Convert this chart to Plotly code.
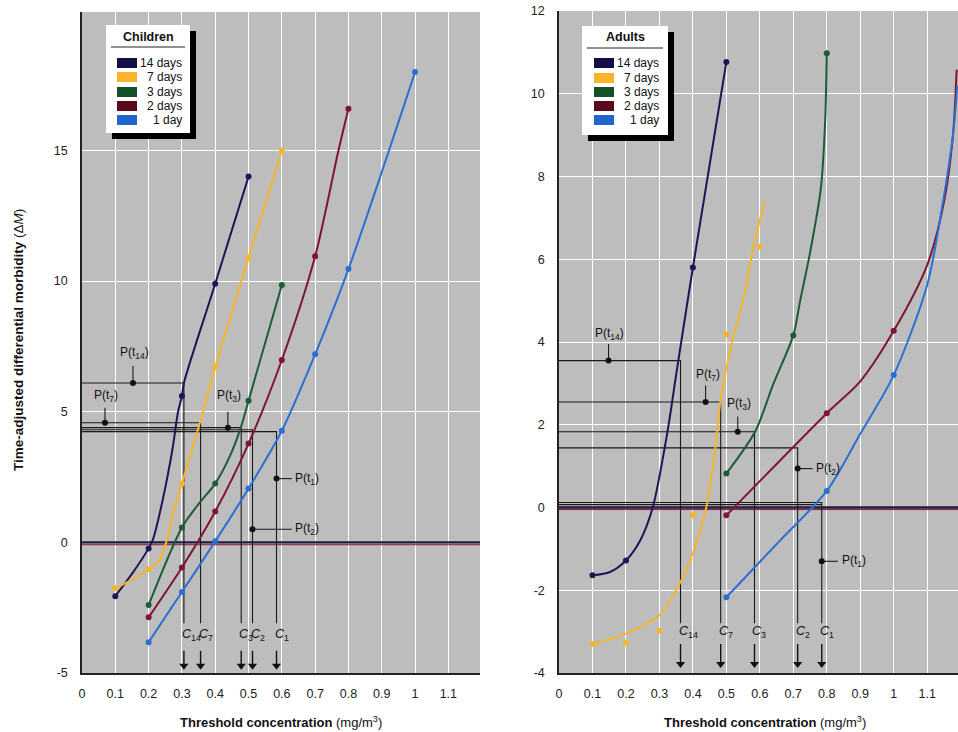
import plotly.graph_objects as go

W, H = 958, 732

# ---------------- DATA ----------------
series_names = ["14 days", "7 days", "3 days", "2 days", "1 day"]
series_colors = ["#1d1656", "#f5b62d", "#1e5c35", "#7e1631", "#2c6fd3"]
legend_colors = ["#150f48", "#fbb42a", "#14502a", "#5a0a1c", "#1f66cc"]

x_ticks = [0, 0.1, 0.2, 0.3, 0.4, 0.5, 0.6, 0.7, 0.8, 0.9, 1.0, 1.1]
x_ticktext = ["0", "0.1", "0.2", "0.3", "0.4", "0.5", "0.6", "0.7", "0.8", "0.9", "1", "1.1"]
y_ticks_children = [-5, 0, 5, 10, 15]
y_ticktext_children = ["-5", "0", "5", "10", "15"]
y_ticks_adults = [-4, -2, 0, 2, 4, 6, 8, 10, 12]
y_ticktext_adults = ["-4", "-2", "0", "2", "4", "6", "8", "10", "12"]

# Children: markers
ch14_x = [0.1, 0.2, 0.3, 0.4, 0.5]
ch14_y = [-2.06, -0.23, 5.6, 9.9, 14.0]
ch7_x = [0.1, 0.2, 0.3, 0.4, 0.5, 0.6]
ch7_y = [-1.76, -1.03, 2.25, 6.7, 10.9, 15.0]
ch3_x = [0.2, 0.3, 0.4, 0.5, 0.6]
ch3_y = [-2.4, 0.57, 2.25, 5.42, 9.85]
ch2_x = [0.2, 0.3, 0.4, 0.5, 0.6, 0.7, 0.8]
ch2_y = [-2.87, -0.96, 1.18, 3.78, 6.98, 10.95, 16.6]
ch1_x = [0.2, 0.3, 0.4, 0.5, 0.6, 0.7, 0.8, 1.0]
ch1_y = [-3.82, -1.9, 0.04, 2.06, 4.27, 7.2, 10.46, 18.0]

# Children: curves
ch14_cx = [0.1, 0.153, 0.2, 0.213, 0.234, 0.255, 0.273, 0.288, 0.3, 0.306, 0.4, 0.5]
ch14_cy = [-2.06, -1.15, -0.23, 0.11, 1.15, 2.41, 3.67, 4.97, 5.6, 6.1, 9.9, 14.0]
ch7_cx = [0.1, 0.153, 0.2, 0.234, 0.255, 0.274, 0.3, 0.354, 0.4, 0.5, 0.6]
ch7_cy = [-1.76, -1.41, -1.03, -0.65, 0.11, 1.15, 2.25, 4.58, 6.7, 10.9, 15.0]
ch3_cx = [0.2, 0.3, 0.354, 0.4, 0.444, 0.477, 0.5, 0.6]
ch3_cy = [-2.4, 0.57, 1.53, 2.25, 3.3, 4.4, 5.42, 9.85]
ch2_cx = [0.2, 0.3, 0.4, 0.5, 0.6, 0.7, 0.77, 0.8]
ch2_cy = [-2.87, -0.96, 1.18, 3.78, 6.98, 10.95, 15.0, 16.6]
ch1_cx = [0.2, 0.3, 0.4, 0.5, 0.6, 0.7, 0.8, 1.0]
ch1_cy = [-3.82, -1.9, 0.04, 2.06, 4.27, 7.2, 10.46, 18.0]

# Adults: markers
ad14_x = [0.1, 0.2, 0.4, 0.5]
ad14_y = [-1.64, -1.28, 5.8, 10.77]
ad7_x = [0.1, 0.2, 0.3, 0.4, 0.5, 0.6]
ad7_y = [-3.3, -3.27, -2.98, -0.19, 4.18, 6.3]
ad3_x = [0.5, 0.7, 0.8]
ad3_y = [0.82, 4.16, 10.98]
ad2_x = [0.5, 0.8, 1.0]
ad2_y = [-0.19, 2.28, 4.27]
ad1_x = [0.5, 0.8, 1.0]
ad1_y = [-2.17, 0.4, 3.2]

# Adults: curves
ad14_cx = [0.1, 0.152, 0.2, 0.243, 0.28, 0.323, 0.353, 0.4, 0.5]
ad14_cy = [-1.64, -1.56, -1.28, -0.79, 0.0, 1.78, 3.37, 5.8, 10.77]
ad7_cx = [0.1, 0.2, 0.3, 0.35, 0.4, 0.44, 0.467, 0.482, 0.52, 0.55, 0.578, 0.614]
ad7_cy = [-3.3, -3.05, -2.6, -2.0, -1.1, 0.0, 1.44, 2.55, 4.1, 5.0, 6.18, 7.4]
ad3_cx = [0.5, 0.587, 0.64, 0.7, 0.72, 0.751, 0.782, 0.795, 0.8]
ad3_cy = [0.82, 1.85, 2.98, 4.16, 4.98, 6.2, 7.7, 9.3, 10.98]
ad2_cx = [0.5, 0.8, 0.9, 1.0, 1.1, 1.15, 1.177, 1.188]
ad2_cy = [-0.19, 2.28, 3.05, 4.27, 5.86, 7.38, 9.0, 10.58]
ad1_cx = [0.5, 0.66, 0.8, 0.9, 1.0, 1.1, 1.147, 1.177, 1.19]
ad1_cy = [-2.17, -0.8, 0.4, 1.78, 3.2, 5.38, 7.38, 9.0, 10.2]

# Threshold annotations  (order: 14, 7, 3, 2, 1)
c_labels = ["14", "7", "3", "2", "1"]
ch_C = [0.306, 0.356, 0.478, 0.512, 0.584]
ch_P = [6.1, 4.58, 4.39, 4.31, 4.24]
ad_C = [0.363, 0.483, 0.584, 0.713, 0.785]
ad_P = [3.55, 2.55, 1.83, 1.44, 0.12]

# ---------------- FIGURE ----------------
fig = go.Figure()

GRAY = "#bdbdbd"
SANS = "Liberation Sans, Arial, sans-serif"
TICKFONT = dict(family=SANS, size=12.5, color="#222")

children = [(ch14_cx, ch14_cy, ch14_x, ch14_y), (ch7_cx, ch7_cy, ch7_x, ch7_y),
            (ch3_cx, ch3_cy, ch3_x, ch3_y), (ch2_cx, ch2_cy, ch2_x, ch2_y),
            (ch1_cx, ch1_cy, ch1_x, ch1_y)]
adults = [(ad14_cx, ad14_cy, ad14_x, ad14_y), (ad7_cx, ad7_cy, ad7_x, ad7_y),
          (ad3_cx, ad3_cy, ad3_x, ad3_y), (ad2_cx, ad2_cy, ad2_x, ad2_y),
          (ad1_cx, ad1_cy, ad1_x, ad1_y)]

def add_zero(xa, ya, off):
    fig.add_trace(go.Scatter(x=[-0.05, 1.3], y=[0, 0], mode="lines", xaxis=xa, yaxis=ya,
                             line=dict(color="#241a40", width=2.4), showlegend=False, hoverinfo="skip"))
    fig.add_trace(go.Scatter(x=[-0.05, 1.3], y=[-off, -off], mode="lines", xaxis=xa, yaxis=ya,
                             line=dict(color="#8a1a30", width=1), showlegend=False, hoverinfo="skip"))

add_zero("x", "y", 0.09)
add_zero("x2", "y2", 0.05)

def add_annot(xa, ya, C, P, vbot, lab_y, arr_top, arr_bot, p_specs):
    for i, (c, p) in enumerate(zip(C, P)):
        fig.add_trace(go.Scatter(x=[0, c, c], y=[p, p, vbot], mode="lines", xaxis=xa, yaxis=ya,
                                 line=dict(color="#1a1a1a", width=1.1), showlegend=False, hoverinfo="skip"))
        fig.add_annotation(x=c, y=lab_y, xref=xa, yref=ya, showarrow=False,
                           xanchor="left", yanchor="middle", xshift=-4,
                           text="<i>C</i><sub>%s</sub>" % c_labels[i],
                           font=dict(family=SANS, size=12.5, color="#111"))
        # downward arrow: shaft + head
        fig.add_trace(go.Scatter(x=[c, c], y=[arr_top, arr_bot], mode="lines", xaxis=xa, yaxis=ya,
                                 line=dict(color="#111", width=1.4), showlegend=False, hoverinfo="skip"))
        fig.add_trace(go.Scatter(x=[c], y=[arr_bot], mode="markers", xaxis=xa, yaxis=ya,
                                 marker=dict(symbol="triangle-down", color="#111", size=8),
                                 showlegend=False, hoverinfo="skip"))
    for (dx, dy, tx, ty, lx, ly, anchor, lab) in p_specs:
        fig.add_trace(go.Scatter(x=[dx, tx], y=[dy, ty], mode="lines", xaxis=xa, yaxis=ya,
                                 line=dict(color="#1a1a1a", width=1.1), showlegend=False, hoverinfo="skip"))
        fig.add_trace(go.Scatter(x=[dx], y=[dy], mode="markers", xaxis=xa, yaxis=ya,
                                 marker=dict(color="#111", size=6), showlegend=False, hoverinfo="skip"))
        fig.add_annotation(x=lx, y=ly, xref=xa, yref=ya, showarrow=False, xanchor=anchor,
                           yanchor="middle",
                           text="P(t<sub>%s</sub>)" % lab,
                           font=dict(family=SANS, size=12, color="#111"))

ch_p_specs = [
    (0.153, ch_P[0], 0.153, 6.75, 0.158, 7.25, "center", "14"),
    (0.069, ch_P[1], 0.069, 5.15, 0.072, 5.6, "center", "7"),
    (0.438, ch_P[2], 0.438, 5.0, 0.441, 5.6, "center", "3"),
    (ch_C[3], 0.5, 0.63, 0.5, 0.635, 0.5, "left", "2"),
    (ch_C[4], 2.44, 0.63, 2.44, 0.635, 2.44, "left", "1"),
]
ad_p_specs = [
    (0.148, ad_P[0], 0.148, 3.95, 0.15, 4.2, "center", "14"),
    (0.438, ad_P[1], 0.438, 2.95, 0.444, 3.2, "center", "7"),
    (0.534, ad_P[2], 0.534, 2.2, 0.537, 2.5, "center", "3"),
    (ad_C[3], 0.94, 0.758, 0.94, 0.762, 0.94, "left", "2"),
    (ad_C[4], -1.3, 0.833, -1.3, 0.838, -1.3, "left", "1"),
]
add_annot("x", "y", ch_C, ch_P, -3.1, -3.55, -4.15, -4.72, ch_p_specs)
add_annot("x2", "y2", ad_C, ad_P, -2.8, -3.0, -3.3, -3.78, ad_p_specs)
fig.add_trace(go.Scatter(x=[0, ad_C[4]], y=[0.07, 0.07], mode="lines", xaxis="x2", yaxis="y2",
                         line=dict(color="#1a1a1a", width=1.1), showlegend=False, hoverinfo="skip"))

for panel, xa, ya in [(children, "x", "y"), (adults, "x2", "y2")]:
    for (cx, cy, mx, my), name, col in zip(panel, series_names, series_colors):
        fig.add_trace(go.Scatter(x=cx, y=cy, mode="lines", xaxis=xa, yaxis=ya,
                                 line=dict(color=col, width=2, shape="spline", smoothing=0.8),
                                 name=name, showlegend=False))
        fig.add_trace(go.Scatter(x=mx, y=my, mode="markers", xaxis=xa, yaxis=ya,
                                 marker=dict(color=col, size=6), name=name, showlegend=False))

# ---------------- AXES ----------------
def px2fx(px):
    return px / W

def py2fy(py):
    return 1 - py / H

common_x = dict(tickvals=x_ticks, ticktext=x_ticktext, tickfont=TICKFONT, showgrid=True,
                gridcolor="white", gridwidth=1.3, zeroline=False, showline=True, linecolor="#222",
                linewidth=1.5, ticks="", ticklabelstandoff=8, automargin=False)
common_y = dict(tickfont=TICKFONT, showgrid=True, gridcolor="white", gridwidth=1.3, zeroline=False,
                showline=True, linecolor="#222", linewidth=1.5, ticks="", ticklabelstandoff=10,
                automargin=False)

fig.update_layout(
    width=W, height=H,
    margin=dict(l=0, r=0, t=0, b=0, autoexpand=False),
    paper_bgcolor="white",
    plot_bgcolor=GRAY,
    showlegend=False,
    xaxis=dict(domain=[px2fx(82), px2fx(480)], range=[0, 1.195], anchor="y", **common_x),
    yaxis=dict(domain=[py2fy(673), py2fy(12)], range=[-5, 20.3], tickvals=y_ticks_children,
               ticktext=y_ticktext_children, anchor="x", **common_y),
    xaxis2=dict(domain=[px2fx(559), 1.0], range=[0, 1.192], anchor="y2", **common_x),
    yaxis2=dict(domain=[py2fy(673), py2fy(11)], range=[-4, 12.0], tickvals=y_ticks_adults,
                ticktext=y_ticktext_adults, anchor="x2", **common_y),
)

# ---------------- TITLES ----------------
fig.add_annotation(xref="paper", yref="paper", x=px2fx(18), y=py2fy(340), textangle=-90,
                   showarrow=False, xanchor="center", yanchor="middle",
                   text="<b>Time-adjusted differential morbidity</b> (Δ<i>M</i>)",
                   font=dict(family=SANS, size=13.5, color="#111"))
for cx in [281, 765]:
    fig.add_annotation(xref="paper", yref="paper", x=px2fx(cx), y=py2fy(722), showarrow=False,
                       xanchor="center", yanchor="middle",
                       text="<b>Threshold concentration</b> (mg/m<sup>3</sup>)",
                       font=dict(family=SANS, size=13, color="#111"))

# ---------------- LEGEND BOXES ----------------
def legend_box(x0, x1, y0, y1, title, sw_x0, sw_x1, rows, lab_x, title_y, ul_y):
    fig.add_shape(type="rect", xref="paper", yref="paper",
                  x0=px2fx(x0 + 6), x1=px2fx(x1 + 6), y0=py2fy(y1 + 6), y1=py2fy(y0 + 6),
                  fillcolor="black", line=dict(width=0), layer="above")
    fig.add_shape(type="rect", xref="paper", yref="paper",
                  x0=px2fx(x0), x1=px2fx(x1), y0=py2fy(y1), y1=py2fy(y0),
                  fillcolor="white", line=dict(width=0), layer="above")
    fig.add_shape(type="line", xref="paper", yref="paper",
                  x0=px2fx(x0 + 5), x1=px2fx(x1 - 5), y0=py2fy(ul_y), y1=py2fy(ul_y),
                  line=dict(color="#222", width=1), layer="above")
    fig.add_annotation(xref="paper", yref="paper", x=px2fx((x0 + x1) / 2), y=py2fy(title_y),
                       showarrow=False, xanchor="center", yanchor="middle",
                       text="<b>%s</b>" % title,
                       font=dict(family=SANS, size=12.5, color="#111"))
    for ry, name, col in zip(rows, series_names, legend_colors):
        fig.add_shape(type="rect", xref="paper", yref="paper",
                      x0=px2fx(sw_x0), x1=px2fx(sw_x1), y0=py2fy(ry + 5), y1=py2fy(ry - 5),
                      fillcolor=col, line=dict(width=0), layer="above")
        fig.add_annotation(xref="paper", yref="paper", x=px2fx(lab_x), y=py2fy(ry),
                           showarrow=False, xanchor="right", yanchor="middle", text=name,
                           font=dict(family=SANS, size=12, color="#111"))

legend_box(106, 190, 25, 133, "Children", 117, 137, [63, 77, 92, 106, 120], 184, 37, 47)
legend_box(582, 668, 26, 135, "Adults", 594, 614, [63, 78, 92, 106, 120], 661, 37, 48)

fig.write_html("out.html", config={"displayModeBar": False},
               post_script="document.body.style.margin='0';document.body.style.overflow='hidden';")
